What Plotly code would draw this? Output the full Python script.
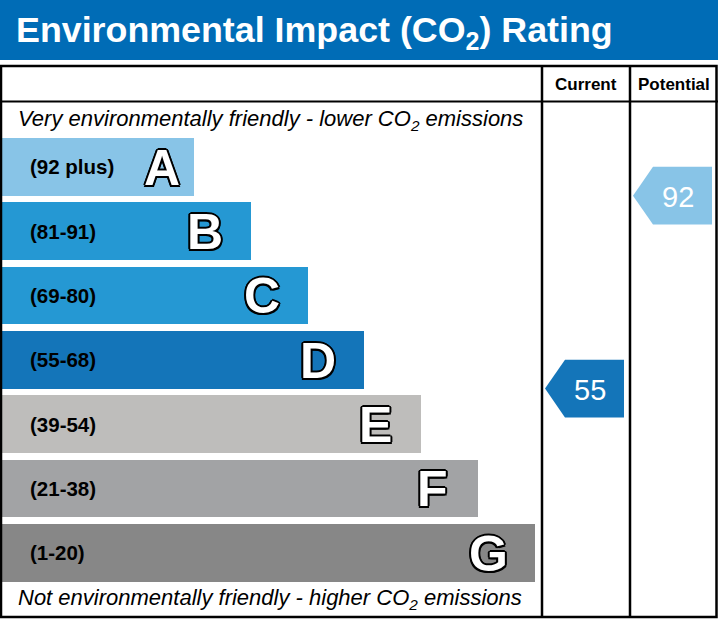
import plotly.graph_objects as go

# ---- data ----
band_letters = ["A", "B", "C", "D", "E", "F", "G"]
band_ranges = ["(92 plus)", "(81-91)", "(69-80)", "(55-68)", "(39-54)", "(21-38)", "(1-20)"]
band_lo = [92, 81, 69, 55, 39, 21, 1]
band_hi = [100, 91, 80, 68, 54, 38, 20]
band_colors = ["#88C4E7", "#2598D3", "#2598D3", "#1475B9", "#BEBDBB", "#A2A3A5", "#878787"]
column_names = ["Current", "Potential"]
ratings = [55, 92]

# ---- layout constants (pixels) ----
W, H = 718, 619
bar_top0 = 138.0
pitch = 64.3
bar_h = 57.7
bar_len0 = 194.0
bar_step = 56.8
col_x = [542, 630, 717]
letter_inset = 46
first_letter_inset = 32

bar_centers = [bar_top0 + bar_h / 2 + i * pitch for i in range(len(band_letters))]
bar_lengths = [bar_len0 + i * bar_step for i in range(len(band_letters))]

fig = go.Figure()
fig.add_trace(go.Bar(
    orientation="h", x=bar_lengths, y=bar_centers, base=0, width=bar_h,
    marker=dict(color=band_colors, line=dict(width=0)), hoverinfo="skip", showlegend=False,
))

FONT = "Liberation Sans, Arial, sans-serif"
ann = []
shadow = ", ".join(f"{dx}px {dy}px 0 #000" for dx, dy in
                   [(-2, 0), (2, 0), (0, -2), (0, 2), (-1.5, -1.5), (1.5, -1.5), (-1.5, 1.5), (1.5, 1.5)])
for i, (letter, rng) in enumerate(zip(band_letters, band_ranges)):
    ann.append(dict(x=28, y=bar_centers[i], text=f"<b>{rng}</b>", xanchor="left", yanchor="middle",
                    showarrow=False, font=dict(family=FONT, size=20.5, color="#000")))
    inset = first_letter_inset if i == 0 else letter_inset
    ann.append(dict(x=bar_lengths[i] - inset, y=bar_centers[i] + 1, text=f"<b>{letter}</b>", xanchor="center",
                    yanchor="middle", showarrow=False,
                    font=dict(family=FONT, size=50, color="#fff", shadow=shadow)))

# rating arrows
def value_to_y(v):
    for i, (lo, hi) in enumerate(zip(band_lo, band_hi)):
        if lo <= v <= hi:
            bottom = bar_centers[i] + bar_h / 2
            return bottom - (v - lo) / (hi - lo + 1) * bar_h
    return None

for k, v in enumerate(ratings):
    yc = value_to_y(v)
    idx = next(i for i, (lo, hi) in enumerate(zip(band_lo, band_hi)) if lo <= v <= hi)
    x_tip = col_x[k] + 3
    x_body = x_tip + 20
    x_end = x_tip + 79
    hh = bar_h / 2
    fig.add_trace(go.Scatter(
        x=[x_tip, x_body, x_end, x_end, x_body, x_tip],
        y=[yc, yc - hh, yc - hh, yc + hh, yc + hh, yc],
        fill="toself", fillcolor=band_colors[idx], mode="none", hoverinfo="skip", showlegend=False,
    ))
    ann.append(dict(x=x_tip + 45, y=yc + 1, text=str(v), showarrow=False, xanchor="center", yanchor="middle",
                    font=dict(family=FONT, size=29, color="#fff")))

# header texts
ann.append(dict(x=14, y=32, text="<b>Environmental Impact (CO<sub>2</sub>) Rating</b>", xanchor="left",
                yanchor="middle", showarrow=False, font=dict(family=FONT, size=35.8, color="#fff")))
for k, name in enumerate(column_names):
    ann.append(dict(x=(col_x[k] + col_x[k + 1]) / 2, y=84, text=f"<b>{name}</b>", showarrow=False,
                    xanchor="center", yanchor="middle", font=dict(family=FONT, size=17, color="#000")))
ann.append(dict(x=16, y=120, text="<i>Very environmentally friendly - lower CO<sub>2</sub> emissions</i>",
                xanchor="left", yanchor="middle", showarrow=False, font=dict(family=FONT, size=22, color="#000")))
ann.append(dict(x=16, y=599, text="<i>Not environmentally friendly - higher CO<sub>2</sub> emissions</i>",
                xanchor="left", yanchor="middle", showarrow=False, font=dict(family=FONT, size=22, color="#000")))

shapes = [
    dict(type="rect", x0=0, x1=W, y0=0, y1=60, fillcolor="#006CB6", line=dict(width=0), layer="below"),
    dict(type="rect", x0=1, x1=716.5, y0=66, y1=617, line=dict(color="#000", width=2.5), layer="above"),
    dict(type="line", x0=0, x1=W, y0=101.5, y1=101.5, line=dict(color="#000", width=2), layer="above"),
    dict(type="line", x0=col_x[0], x1=col_x[0], y0=66, y1=617, line=dict(color="#000", width=2.5), layer="above"),
    dict(type="line", x0=col_x[1], x1=col_x[1], y0=66, y1=617, line=dict(color="#000", width=2.5), layer="above"),
]

fig.update_layout(
    width=W, height=H, margin=dict(l=0, r=0, t=0, b=0),
    paper_bgcolor="#fff", plot_bgcolor="#fff",
    xaxis=dict(range=[0, W], visible=False, fixedrange=True),
    yaxis=dict(range=[H, 0], visible=False, fixedrange=True),
    annotations=ann, shapes=shapes, bargap=0,
)
fig.write_html("out.html", config={"displayModeBar": False},
               post_script="document.body.style.margin='0';document.body.style.overflow='hidden';")
